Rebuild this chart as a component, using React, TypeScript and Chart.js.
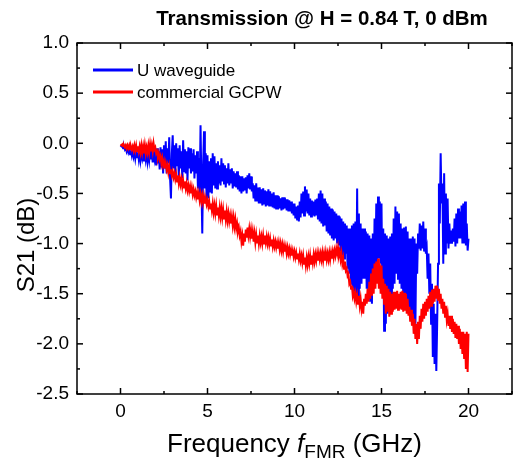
import { useEffect, useRef } from 'react';
import { Chart, registerables } from 'chart.js';

Chart.register(...registerables);

const TITLE = 'Transmission @ H = 0.84 T, 0 dBm';
const SERIES_NAMES = ['U waveguide', 'commercial GCPW'];
const SERIES_COLORS = ['#0000FF', '#FF0000'];

const FREQ_START = 0;
const FREQ_STEP = 0.05;

// S21 (dB), one value every 0.05 GHz from 0 to 20 GHz
const U_WAVEGUIDE = [
  -0.02, -0.03, -0.02, -0.05, -0.03, -0.06, -0.04, -0.08, -0.05, -0.09,
  -0.06, -0.11, -0.07, -0.12, -0.07, -0.13, -0.08, -0.15, -0.08, -0.14,
  -0.09, -0.16, -0.08, -0.17, -0.10, -0.15, -0.09, -0.18, -0.08, -0.16,
  -0.09, -0.18, -0.10, -0.17, -0.08, -0.16, -0.10, -0.19, -0.07, -0.15,
  -0.08, -0.22, -0.05, -0.20, -0.08, -0.26, -0.04, -0.24, -0.06, -0.30,
  -0.02, -0.25, 0.02, -0.30, -0.05, -0.20, 0.06, -0.35, -0.55, -0.10,
  0.08, -0.25, -0.02, -0.30, 0.00, -0.22, -0.05, -0.35, -0.02, -0.25,
  -0.08, -0.35, 0.03, -0.28, -0.06, -0.30, -0.08, -0.37, -0.04, -0.25,
  -0.05, -0.30, -0.10, -0.28, -0.06, -0.35, -0.12, -0.30, -0.08, -0.45,
  -0.15, -0.50, 0.18, -0.40, -0.90, -0.20, 0.12, -0.45, -0.10, -0.60,
  -0.12, -0.55, -0.18, -0.48, -0.15, -0.50, -0.10, -0.42, -0.13, -0.45,
  -0.20, -0.45, -0.18, -0.40, -0.22, -0.42, -0.15, -0.38, -0.20, -0.40,
  -0.22, -0.44, -0.25, -0.40, -0.20, -0.42, -0.26, -0.40, -0.25, -0.45,
  -0.28, -0.43, -0.30, -0.44, -0.28, -0.46, -0.32, -0.48, -0.33, -0.50,
  -0.33, -0.48, -0.35, -0.47, -0.34, -0.50, -0.32, -0.45, -0.30, -0.46,
  -0.33, -0.48, -0.40, -0.55, -0.42, -0.58, -0.40, -0.57, -0.44, -0.60,
  -0.44, -0.60, -0.46, -0.62, -0.45, -0.60, -0.47, -0.63, -0.48, -0.62,
  -0.46, -0.63, -0.48, -0.62, -0.50, -0.64, -0.49, -0.65, -0.52, -0.66,
  -0.52, -0.66, -0.53, -0.65, -0.55, -0.67, -0.54, -0.66, -0.54, -0.65,
  -0.56, -0.67, -0.56, -0.68, -0.57, -0.68, -0.58, -0.70, -0.60, -0.72,
  -0.60, -0.75, -0.63, -0.76, -0.62, -0.78, -0.58, -0.74, -0.50, -0.70,
  -0.48, -0.72, -0.43, -0.68, -0.46, -0.70, -0.50, -0.72, -0.55, -0.73,
  -0.57, -0.72, -0.58, -0.73, -0.56, -0.72, -0.55, -0.76, -0.50, -0.78,
  -0.47, -0.80, -0.50, -0.83, -0.55, -0.82, -0.58, -0.88, -0.60, -0.90,
  -0.63, -0.92, -0.65, -0.95, -0.66, -0.97, -0.68, -0.95, -0.70, -1.00,
  -0.72, -1.02, -0.73, -1.08, -0.75, -1.12, -0.78, -1.15, -0.80, -1.10,
  -0.82, -1.25, -0.85, -1.30, -0.85, -1.40, -0.82, -1.45, -0.80, -1.48,
  -0.78, -1.50, -0.45, -1.53, -0.70, -1.45, -0.80, -1.40, -0.85, -1.35,
  -0.85, -1.35, -0.88, -1.45, -0.90, -1.55, -0.92, -1.58, -0.95, -1.60,
  -0.90, -1.45, -0.75, -1.25, -0.60, -1.20, -0.53, -1.15, -0.58, -1.20,
  -0.60, -1.50, -0.85, -1.87, -0.90, -1.80, -0.92, -1.70, -0.95, -1.55,
  -0.93, -1.50, -0.90, -1.45, -0.75, -1.40, -0.63, -1.30, -0.68, -1.35,
  -0.70, -1.40, -0.80, -1.45, -0.85, -1.55, -0.84, -1.58, -0.83, -1.63,
  -0.88, -1.63, -0.95, -1.70, -0.95, -1.75, -0.93, -1.78, -0.95, -1.80,
  -1.00, -1.30, -0.90, -1.05, -0.80, -1.07, -0.82, -1.05, -0.78, -1.08,
  -0.85, -1.10, -1.05, -1.35, -1.10, -1.50, -1.20, -1.80, -1.40, -2.13,
  -1.60, -2.20, -1.70, -2.27, -1.80, -1.20, -0.40, -0.80, -0.10, -0.60,
  -0.40, -1.20, -0.30, -1.10, -0.50, -1.00, -0.55, -1.05, -0.80, -1.00,
  -0.87, -1.00, -0.85, -0.98, -0.75, -1.03, -0.70, -1.00, -0.65, -0.95,
  -0.68, -0.95, -0.62, -1.00, -0.60, -1.00, -0.58, -1.02, -0.80, -1.07,
  -0.95,
];

const COMMERCIAL_GCPW = [
  -0.01, -0.02, -0.01, -0.03, -0.02, -0.04, -0.02, -0.05, -0.02, -0.05,
  -0.02, -0.06, -0.03, -0.06, -0.03, -0.07, -0.02, -0.07, -0.02, -0.08,
  -0.03, -0.08, -0.03, -0.09, -0.02, -0.09, -0.03, -0.10, -0.02, -0.10,
  -0.04, -0.09, -0.02, -0.09, -0.01, -0.08, -0.02, -0.08, 0.00, -0.06,
  -0.04, -0.10, -0.08, -0.14, -0.10, -0.16, -0.13, -0.20, -0.15, -0.22,
  -0.18, -0.25, -0.20, -0.26, -0.22, -0.29, -0.23, -0.30, -0.26, -0.32,
  -0.28, -0.34, -0.30, -0.36, -0.31, -0.38, -0.32, -0.40, -0.34, -0.41,
  -0.36, -0.43, -0.37, -0.44, -0.38, -0.45, -0.40, -0.47, -0.42, -0.48,
  -0.43, -0.50, -0.44, -0.51, -0.46, -0.52, -0.48, -0.54, -0.49, -0.56,
  -0.50, -0.57, -0.51, -0.58, -0.52, -0.59, -0.53, -0.60, -0.55, -0.61,
  -0.57, -0.63, -0.58, -0.65, -0.60, -0.67, -0.60, -0.69, -0.62, -0.70,
  -0.62, -0.71, -0.64, -0.72, -0.64, -0.73, -0.65, -0.74, -0.66, -0.75,
  -0.67, -0.76, -0.68, -0.77, -0.70, -0.78, -0.72, -0.80, -0.73, -0.82,
  -0.74, -0.83, -0.76, -0.85, -0.80, -0.88, -0.84, -0.92, -0.88, -0.98,
  -0.92, -1.02, -0.90, -0.98, -0.86, -0.94, -0.84, -0.92, -0.85, -0.93,
  -0.86, -0.95, -0.88, -0.98, -0.90, -0.99, -0.91, -0.99, -0.92, -1.00,
  -0.92, -0.99, -0.93, -1.00, -0.92, -1.00, -0.92, -0.99, -0.93, -1.00,
  -0.94, -1.01, -0.95, -1.02, -0.96, -1.03, -0.97, -1.03, -0.98, -1.04,
  -0.99, -1.05, -0.99, -1.06, -1.00, -1.07, -1.01, -1.08, -1.02, -1.08,
  -1.03, -1.10, -1.04, -1.10, -1.05, -1.11, -1.06, -1.12, -1.07, -1.13,
  -1.08, -1.14, -1.09, -1.15, -1.10, -1.16, -1.10, -1.17, -1.12, -1.19,
  -1.12, -1.20, -1.14, -1.22, -1.14, -1.21, -1.13, -1.20, -1.12, -1.20,
  -1.12, -1.19, -1.11, -1.18, -1.11, -1.17, -1.10, -1.17, -1.10, -1.16,
  -1.10, -1.16, -1.09, -1.17, -1.10, -1.17, -1.09, -1.16, -1.10, -1.16,
  -1.09, -1.16, -1.09, -1.15, -1.08, -1.14, -1.07, -1.12, -1.05, -1.10,
  -1.04, -1.12, -1.08, -1.16, -1.10, -1.20, -1.15, -1.25, -1.18, -1.27,
  -1.25, -1.32, -1.30, -1.40, -1.38, -1.45, -1.42, -1.52, -1.48, -1.55,
  -1.50, -1.58, -1.52, -1.60, -1.52, -1.62, -1.55, -1.65, -1.58, -1.70,
  -1.55, -1.62, -1.50, -1.60, -1.45, -1.58, -1.38, -1.55, -1.30, -1.52,
  -1.25, -1.50, -1.20, -1.45, -1.18, -1.40, -1.15, -1.45, -1.20, -1.50,
  -1.22, -1.55, -1.35, -1.60, -1.40, -1.70, -1.42, -1.68, -1.45, -1.73,
  -1.48, -1.70, -1.50, -1.68, -1.48, -1.66, -1.48, -1.65, -1.47, -1.66,
  -1.50, -1.65, -1.48, -1.66, -1.47, -1.68, -1.49, -1.67, -1.50, -1.70,
  -1.55, -1.72, -1.63, -1.78, -1.66, -1.82, -1.70, -1.90, -1.75, -1.95,
  -1.80, -2.00, -1.78, -1.95, -1.72, -1.85, -1.65, -1.78, -1.60, -1.75,
  -1.58, -1.72, -1.55, -1.68, -1.52, -1.65, -1.48, -1.62, -1.46, -1.60,
  -1.45, -1.58, -1.42, -1.55, -1.42, -1.56, -1.45, -1.60, -1.50, -1.65,
  -1.55, -1.70, -1.58, -1.73, -1.62, -1.76, -1.70, -1.82, -1.72, -1.85,
  -1.72, -1.88, -1.75, -1.90, -1.78, -1.94, -1.80, -1.95, -1.82, -2.00,
  -1.85, -2.05, -1.88, -2.10, -1.88, -2.15, -1.90, -2.25, -1.88, -2.28,
  -1.90,
];

const X_MIN = -2.5;
const X_MAX = 22.5;
const Y_MIN = -2.5;
const Y_MAX = 1.0;
const X_TICKS = [0, 5, 10, 15, 20];
const X_MINOR = [-2.5, 2.5, 7.5, 12.5, 17.5, 22.5];
const Y_TICKS = [-2.5, -2.0, -1.5, -1.0, -0.5, 0.0, 0.5, 1.0];
const Y_MINOR = [-2.25, -1.75, -1.25, -0.75, -0.25, 0.25, 0.75];

const FONT = '"Liberation Sans", Arial, sans-serif';

const toPoints = (vals: number[]) =>
  vals.map((v, i) => ({ x: +(FREQ_START + i * FREQ_STEP).toFixed(3), y: v }));

const decorPlugin = {
  id: 'originDecor',
  afterDatasetsDraw(chart: any) {
    const { ctx, chartArea: a, scales } = chart;
    const xs = scales.x;
    const ys = scales.y;
    ctx.save();
    ctx.strokeStyle = '#000';
    ctx.lineWidth = 1.5;
    ctx.strokeRect(a.left, a.top, a.right - a.left, a.bottom - a.top);
    const line = (x1: number, y1: number, x2: number, y2: number) => {
      ctx.beginPath();
      ctx.moveTo(x1, y1);
      ctx.lineTo(x2, y2);
      ctx.stroke();
    };
    const xt = (v: number, len: number) => {
      const p = xs.getPixelForValue(v);
      line(p, a.bottom, p, a.bottom - len);
      line(p, a.top, p, a.top + len);
    };
    const yt = (v: number, len: number) => {
      const p = ys.getPixelForValue(v);
      line(a.left, p, a.left + len, p);
      line(a.right, p, a.right - len, p);
    };
    X_TICKS.forEach((v) => xt(v, 6));
    X_MINOR.forEach((v) => xt(v, 3));
    Y_TICKS.forEach((v) => yt(v, 6));
    Y_MINOR.forEach((v) => yt(v, 3));

    // legend
    const lx = 93;
    const rows = [70, 92];
    ctx.lineWidth = 3;
    ctx.font = `17px ${FONT}`;
    ctx.textBaseline = 'middle';
    ctx.textAlign = 'left';
    SERIES_NAMES.forEach((name, i) => {
      ctx.strokeStyle = SERIES_COLORS[i];
      line(lx, rows[i], lx + 40, rows[i]);
      ctx.fillStyle = '#000';
      ctx.fillText(name, lx + 44, rows[i] + 1);
    });
    ctx.restore();
  },
  afterDraw(chart: any) {
    const { ctx, chartArea: a } = chart;
    ctx.save();
    ctx.fillStyle = '#000';
    // title
    ctx.font = `bold 20.5px ${FONT}`;
    ctx.textAlign = 'center';
    ctx.textBaseline = 'alphabetic';
    ctx.fillText(TITLE, 322, 25);

    // x axis title with italic f and subscript FMR
    const big = 26;
    const small = 19;
    const parts = [
      { t: 'Frequency ', f: `${big}px ${FONT}`, dy: 0 },
      { t: 'f', f: `italic ${big}px ${FONT}`, dy: 0 },
      { t: 'FMR', f: `${small}px ${FONT}`, dy: 6 },
      { t: ' (GHz)', f: `${big}px ${FONT}`, dy: 0 },
    ];
    let total = 0;
    parts.forEach((p) => {
      ctx.font = p.f;
      total += ctx.measureText(p.t).width;
    });
    let cx = (a.left + a.right) / 2 - total / 2;
    const baseY = 452;
    ctx.textAlign = 'left';
    parts.forEach((p) => {
      ctx.font = p.f;
      ctx.fillText(p.t, cx, baseY + p.dy);
      cx += ctx.measureText(p.t).width;
    });

    // y axis title
    ctx.font = `24px ${FONT}`;
    ctx.translate(27, 245);
    ctx.rotate(-Math.PI / 2);
    ctx.textAlign = 'center';
    ctx.textBaseline = 'middle';
    ctx.fillText('S21 (dB)', 0, 0);
    ctx.restore();
  },
};

export default function App() {
  const ref = useRef<HTMLCanvasElement | null>(null);
  useEffect(() => {
    if (!ref.current) return;
    const chart = new Chart(ref.current, {
      type: 'line',
      data: {
        datasets: [
          {
            label: SERIES_NAMES[0],
            data: toPoints(U_WAVEGUIDE),
            borderColor: SERIES_COLORS[0],
            backgroundColor: SERIES_COLORS[0],
            borderWidth: 2,
            pointRadius: 0,
            tension: 0,
            order: 2,
          },
          {
            label: SERIES_NAMES[1],
            data: toPoints(COMMERCIAL_GCPW),
            borderColor: SERIES_COLORS[1],
            backgroundColor: SERIES_COLORS[1],
            borderWidth: 2,
            pointRadius: 0,
            tension: 0,
            order: 1,
          },
        ],
      },
      options: {
        animation: false,
        responsive: false,
        devicePixelRatio: 1,
        layout: { padding: { top: 43, right: 1, left: 0, bottom: 0 } },
        plugins: {
          legend: { display: false },
          title: { display: false },
          tooltip: { enabled: false },
        },
        scales: {
          x: {
            type: 'linear',
            min: X_MIN,
            max: X_MAX,
            grid: { display: false, drawTicks: false },
            border: { display: false },
            afterBuildTicks: (s: any) => {
              s.ticks = X_TICKS.map((v) => ({ value: v }));
            },
            afterFit: (s: any) => {
              s.height = 69;
            },
            ticks: {
              padding: 6,
              maxRotation: 0,
              color: '#000',
              font: { family: FONT, size: 19 },
              callback: (v: any) => String(v),
            },
          },
          y: {
            type: 'linear',
            min: Y_MIN,
            max: Y_MAX,
            grid: { display: false, drawTicks: false },
            border: { display: false },
            afterBuildTicks: (s: any) => {
              s.ticks = Y_TICKS.map((v) => ({ value: v }));
            },
            afterFit: (s: any) => {
              s.width = 77;
            },
            ticks: {
              padding: 8,
              color: '#000',
              font: { family: FONT, size: 19 },
              callback: (v: any) => Number(v).toFixed(1),
            },
          },
        },
      },
      plugins: [decorPlugin],
    });
    return () => chart.destroy();
  }, []);
  return (
    <div style={{ position: 'absolute', left: 0, top: 0, width: 513, height: 463 }}>
      <canvas ref={ref} width={513} height={463} style={{ display: 'block' }} />
    </div>
  );
}
